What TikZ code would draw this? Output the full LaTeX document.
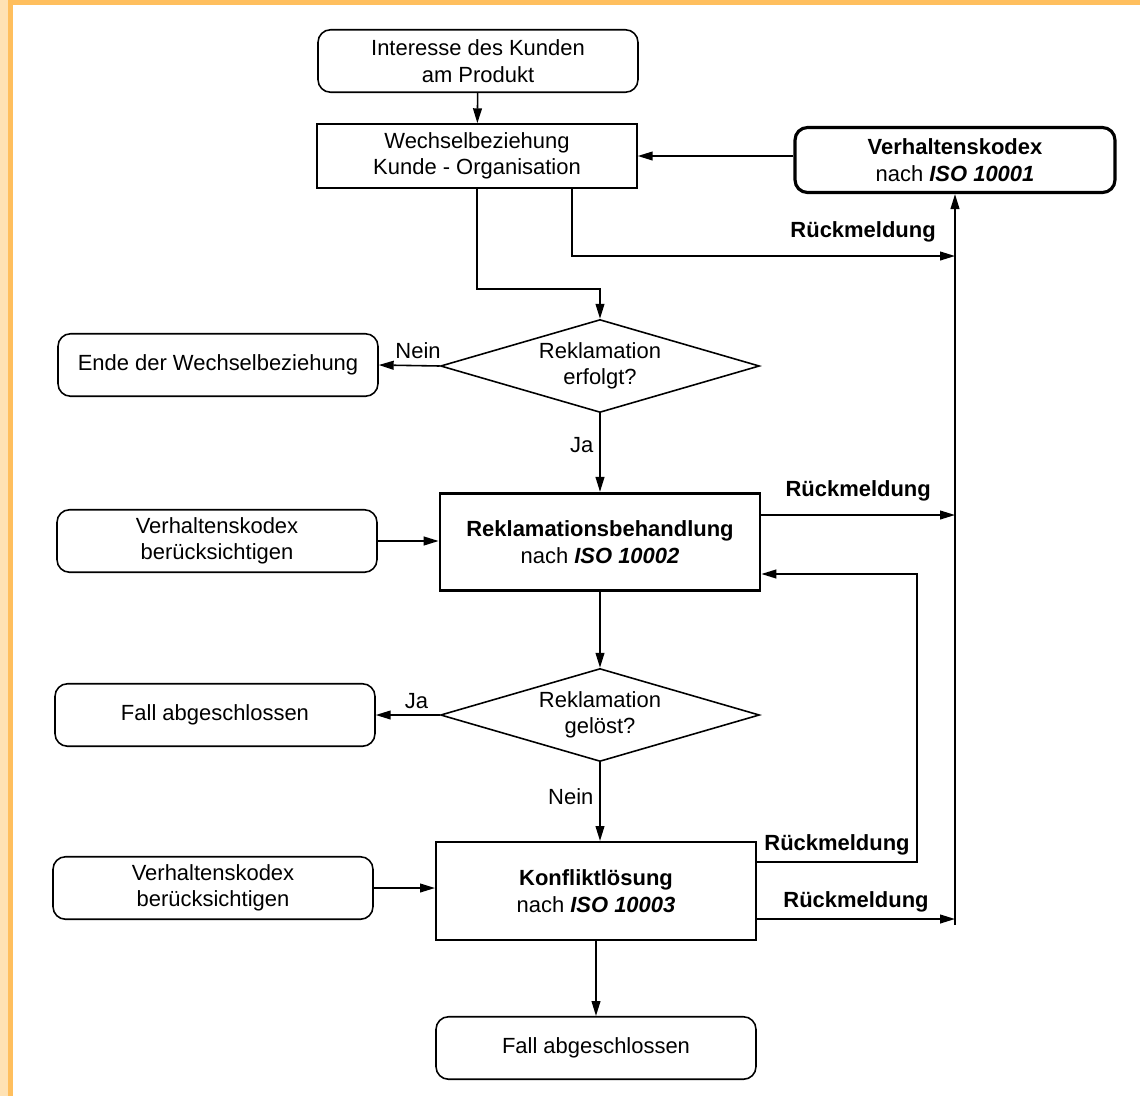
\documentclass[tikz,border=0pt]{standalone}
\usepackage{fontspec}
\setmainfont{Liberation Sans}
\usepackage{xcolor}
\usetikzlibrary{shapes.geometric, arrows.meta}
\definecolor{framelight}{HTML}{FFE2B4}
\definecolor{frameorange}{HTML}{FFBF5E}
\tikzstyle{startstop} = [rectangle, rounded corners=0.25cm, minimum width=6.4cm, minimum height=1.25cm, text centered, align=center, draw=black, line width=0.9pt]
\tikzstyle{process} = [rectangle, minimum width=6.4cm, minimum height=1.28cm, text centered, align=center, draw=black, line width=0.9pt]
\tikzstyle{isobox} = [process, minimum height=1.95cm, line width=1.6pt]
\tikzstyle{decision} = [diamond, aspect=3.45, inner sep=0pt, minimum width=6.38cm, minimum height=1.86cm, text centered, align=center, draw=black, line width=0.9pt]
\tikzstyle{flow} = [line width=0.9pt, -{Triangle[length=8.5pt,width=5pt]}]

\begin{document}
\begin{tikzpicture}[x=0.02cm, y=-0.02cm, font=\fontsize{12.5}{15}\selectfont]
		\useasboundingbox (0,0) rectangle (1140,1096);
		\fill[white] (0,0) rectangle (1140,1096);
		\fill[frameorange] (0,0) rectangle (1140,5);
		\fill[frameorange] (0,0) rectangle (13,1096);
		\fill[framelight] (0,0) rectangle (8,1096);
		% main column
		\node (Interesse)[startstop] at (478,61) {Interesse des Kunden\\am Produkt};
		\node (Wechsel)[process] at (477,156) {Wechselbeziehung\\Kunde - Organisation};
		\node (Kodex1)[startstop, line width=1.8pt, minimum height=1.3cm] at (955,160) {\textbf{Verhaltenskodex}\\nach \textbf{\textit{ISO 10001}}};
		\node (Erfolgt)[decision] at (600,366) {Reklamation\\erfolgt?};
		\node (Ende)[startstop] at (218,365) {Ende der Wechselbeziehung};
		\node (Behandlung)[isobox] at (600,542) {\textbf{Reklamationsbehandlung}\\nach \textbf{\textit{ISO 10002}}};
		\node (Kodex2)[startstop] at (217,541) {Verhaltenskodex\\berücksichtigen};
		\node (Geloest)[decision] at (600,715) {Reklamation\\gelöst?};
		\node (Fall1)[startstop] at (215,715) {Fall abgeschlossen};
		\node (Konflikt)[isobox, line width=1.2pt, minimum height=1.96cm] at (596,891) {\textbf{Konfliktlösung}\\nach \textbf{\textit{ISO 10003}}};
		\node (Kodex3)[startstop] at (213,888) {Verhaltenskodex\\berücksichtigen};
		\node (Fall2)[startstop] at (596,1048) {Fall abgeschlossen};
		% feedback points
		\coordinate (Fb1) at (955,256);
		\coordinate (Fb2) at (955,515);
		\coordinate (Fb3) at (955,919);
		\coordinate (Loop) at (917,862);
		\coordinate (Bus) at (955,925);
		\draw [flow] (Interesse) -- (Wechsel);
		\draw [flow] (Kodex1.west |- Wechsel.east) -- (Wechsel.east);
		\draw [flow] (Wechsel.south) -- ++(0,100) -| (Erfolgt.north);
		\draw [flow] ([xshift=1.9cm]Wechsel.south) |- (Fb1) node[pos=0.88, above=4pt]{\textbf{Rückmeldung}};
		\draw [flow] (Bus) -- (Kodex1.south);
		\draw [flow] (Erfolgt.west) -- (Ende.east) node[midway, above, xshift=5pt]{Nein};
		\draw [flow] (Erfolgt.south) -- (Behandlung.north) node[midway, left, yshift=4pt]{Ja};
		\draw [flow] (Kodex2.east) -- (Behandlung.west |- Kodex2.east);
		\draw [flow] (Behandlung.east |- Fb2) -- (Fb2) node[midway, above=4pt]{\textbf{Rückmeldung}};
		\draw [flow] (Behandlung.south) -- (Geloest.north);
		\draw [flow] (Geloest.west) -- (Fall1.east) node[midway, above, xshift=5pt]{Ja};
		\draw [flow] (Geloest.south) -- (Geloest.south |- Konflikt.north) node[midway, left, yshift=3pt]{Nein};
		\draw [flow] (Kodex3.east) -- (Konflikt.west |- Kodex3.east);
		\draw [flow] (Konflikt.east |- Loop) -- (Loop) node[midway, above]{\textbf{Rückmeldung}} |- ([yshift=-0.64cm]Behandlung.east);
		\draw [flow] (Konflikt.east |- Fb3) -- (Fb3) node[midway, above]{\textbf{Rückmeldung}};
		\draw [flow] (Konflikt.south) -- (Fall2.north);
	\end{tikzpicture}
\end{document}
